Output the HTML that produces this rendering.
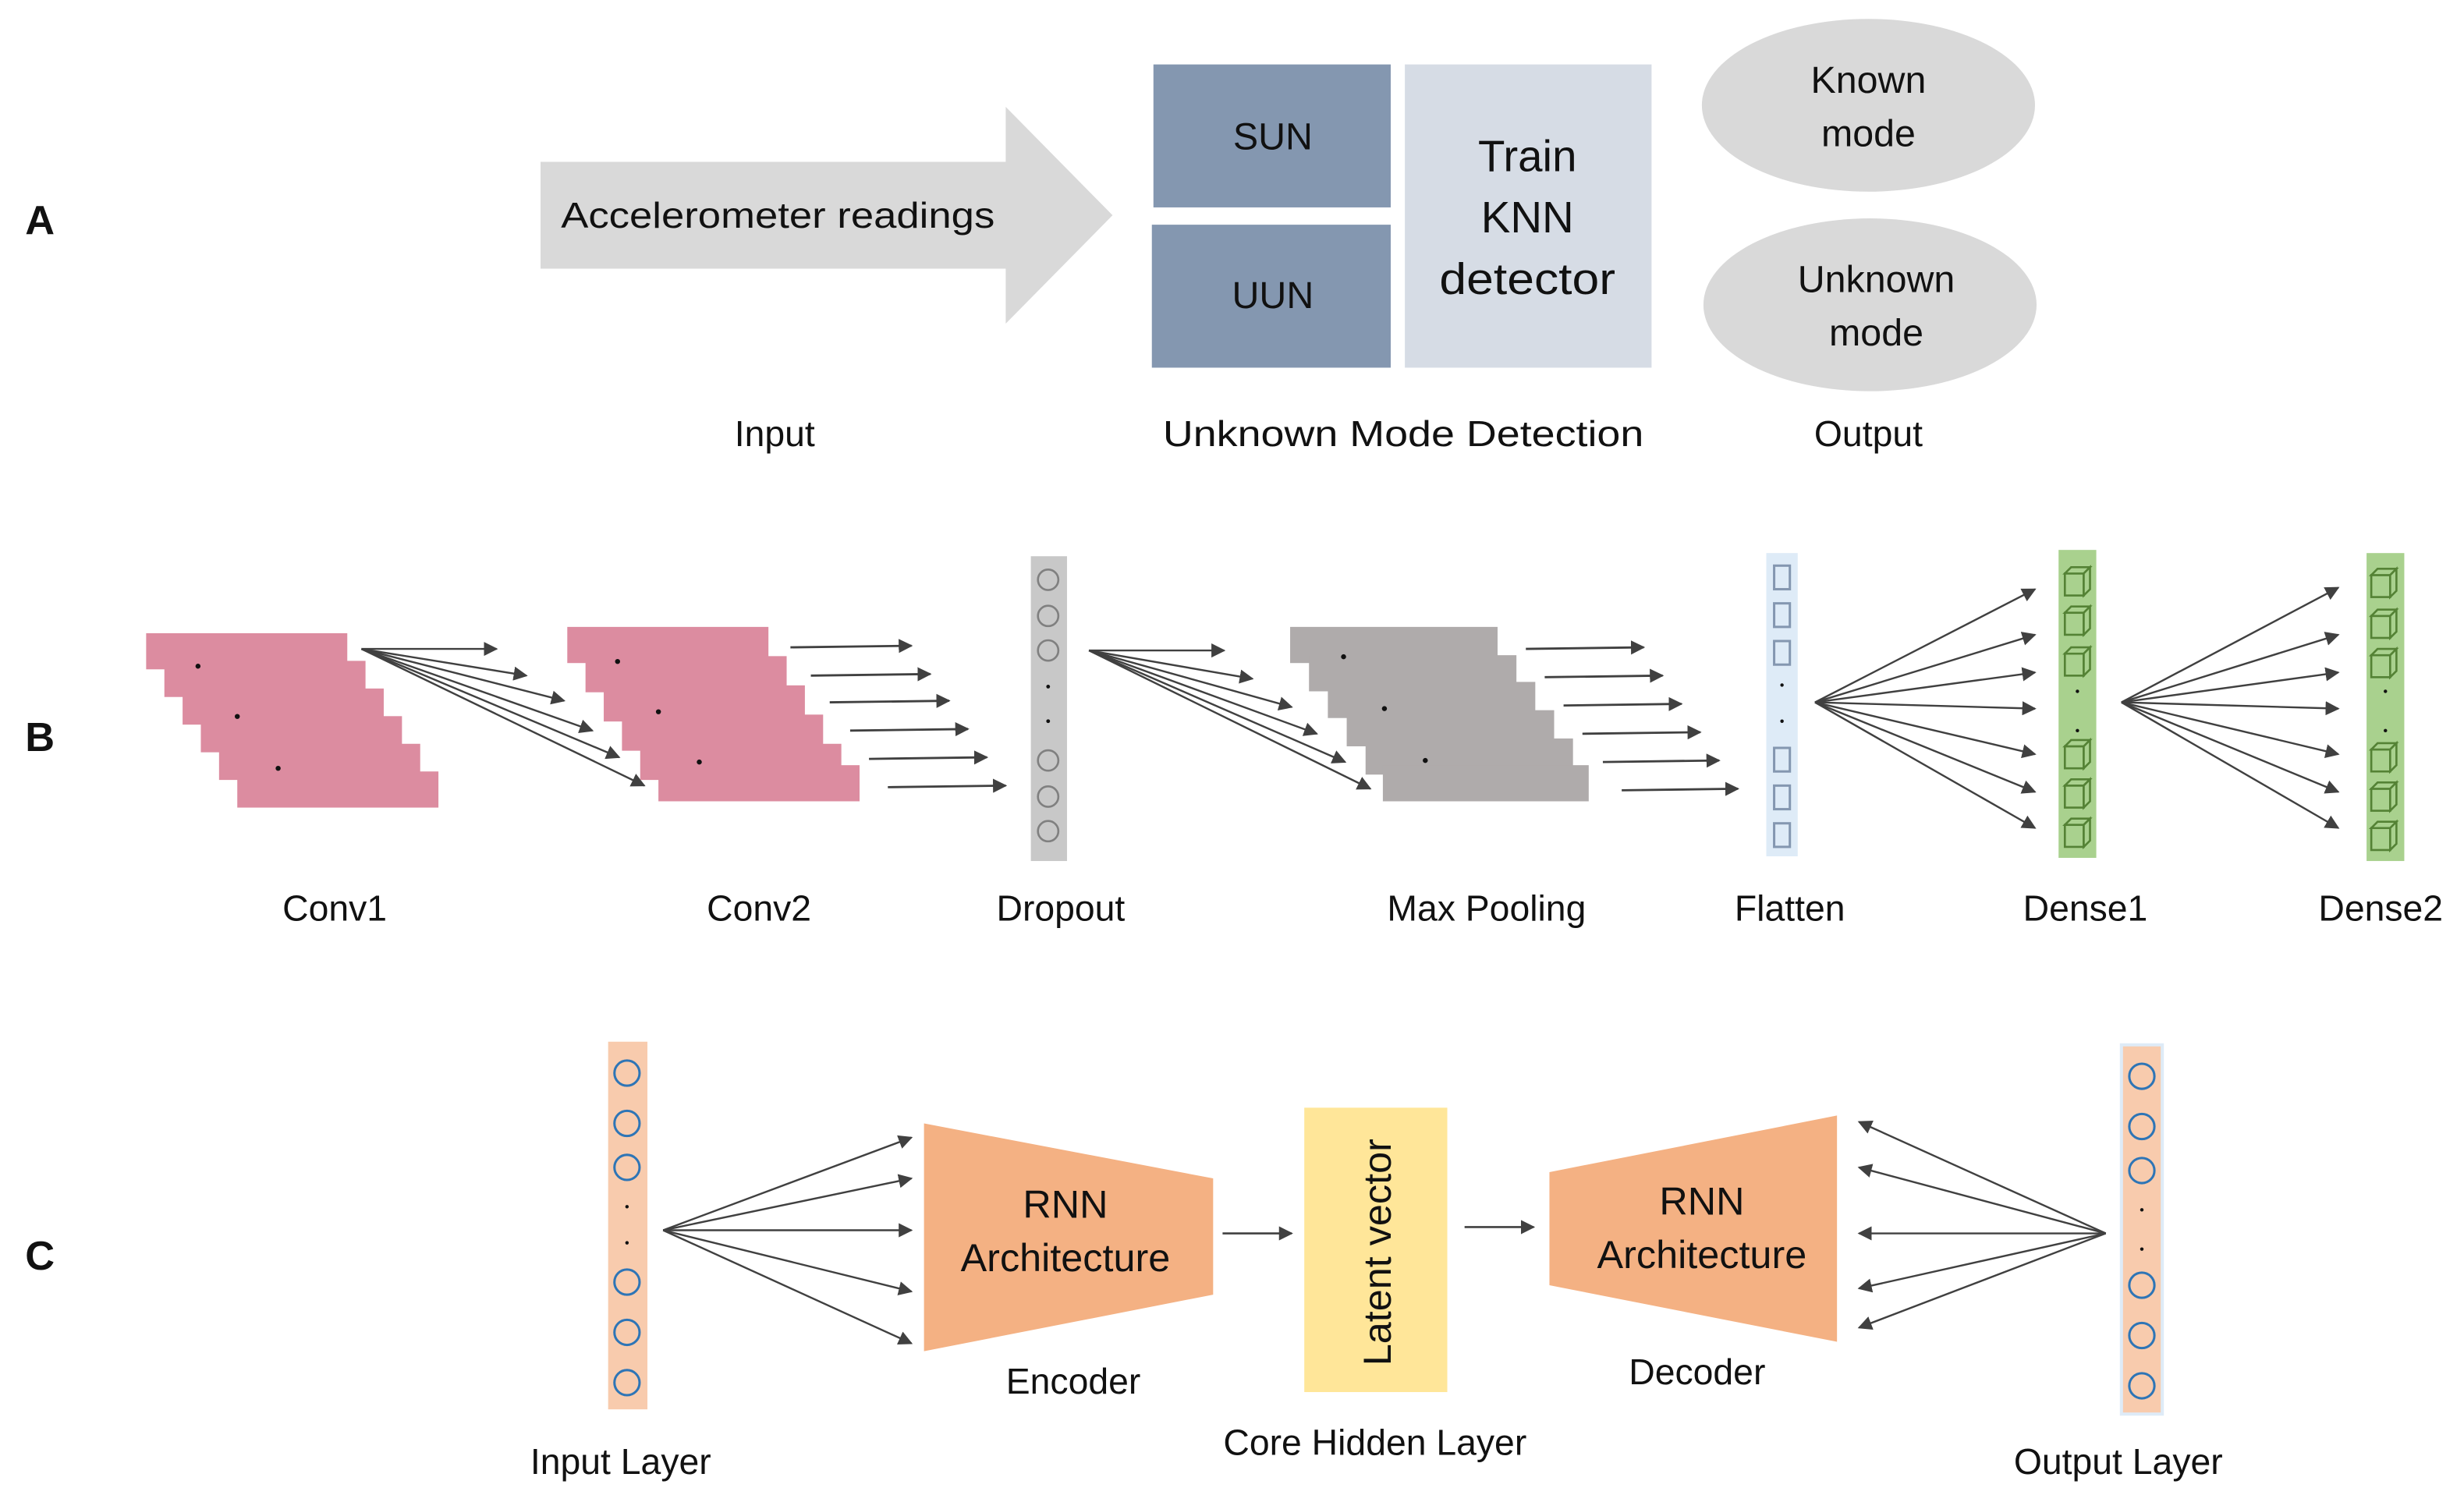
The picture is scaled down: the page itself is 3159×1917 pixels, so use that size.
<!DOCTYPE html>
<html><head><meta charset="utf-8"><style>
html,body{margin:0;padding:0;background:#fff;}
svg{display:block;}
text{font-family:"Liberation Sans",sans-serif;fill:#111;}
</style></head><body>
<svg width="3159" height="1917" viewBox="0 0 1568 951.5" xmlns="http://www.w3.org/2000/svg">
<defs>
<marker id="ah" viewBox="0 0 10 10" refX="9" refY="5" markerWidth="9" markerHeight="9" markerUnits="userSpaceOnUse" orient="auto">
<path d="M0,0 L10,5 L0,10 z" fill="#404040"/></marker>
</defs>
<rect width="1568" height="951.5" fill="#fff"/>

<!-- Section A -->
<text x="16" y="149" font-size="26" font-weight="bold">A</text>
<polygon points="344,103 640,103 640,68 708,137 640,206 640,171 344,171" fill="#d9d9d9"/>
<text x="495" y="145" font-size="23" text-anchor="middle" textLength="276" lengthAdjust="spacingAndGlyphs">Accelerometer readings</text>
<rect x="734" y="41" width="151" height="91" fill="#8497b0"/>
<rect x="733" y="143" width="152" height="91" fill="#8497b0"/>
<text x="810" y="95" font-size="24" text-anchor="middle">SUN</text>
<text x="810" y="196" font-size="24" text-anchor="middle">UUN</text>
<rect x="894" y="41" width="157" height="193" fill="#d6dce5"/>
<text x="972" y="109" font-size="28" text-anchor="middle">Train</text>
<text x="972" y="148" font-size="28" text-anchor="middle">KNN</text>
<text x="972" y="187" font-size="28" text-anchor="middle" textLength="112" lengthAdjust="spacingAndGlyphs">detector</text>
<ellipse cx="1189" cy="67" rx="106" ry="55" fill="#d9d9d9"/>
<ellipse cx="1190" cy="194" rx="106" ry="55" fill="#d9d9d9"/>
<text x="1189" y="59" font-size="24" text-anchor="middle">Known</text>
<text x="1189" y="93" font-size="24" text-anchor="middle">mode</text>
<text x="1194" y="186" font-size="24" text-anchor="middle">Unknown</text>
<text x="1194" y="220" font-size="24" text-anchor="middle">mode</text>
<text x="493" y="284" font-size="23" text-anchor="middle">Input</text>
<text x="893" y="284" font-size="23" text-anchor="middle" textLength="306" lengthAdjust="spacingAndGlyphs">Unknown Mode Detection</text>
<text x="1189" y="284" font-size="23" text-anchor="middle">Output</text>

<!-- Section B -->
<text x="16" y="478" font-size="26" font-weight="bold">B</text>
<g fill="#dc8ca0">
<rect x="93" y="403" width="128" height="23"/><rect x="104.6" y="420.6" width="128" height="23"/>
<rect x="116.2" y="438.2" width="128" height="23"/><rect x="127.8" y="455.8" width="128" height="23"/>
<rect x="139.4" y="473.4" width="128" height="23"/><rect x="151" y="491" width="128" height="23"/>
</g>
<g fill="#111"><circle cx="126" cy="424" r="1.6"/><circle cx="151" cy="456" r="1.6"/><circle cx="177" cy="489" r="1.6"/></g>
<g stroke="#404040" stroke-width="1.2" marker-end="url(#ah)">
<line x1="230" y1="413" x2="316" y2="413"/><line x1="230" y1="413" x2="335" y2="430"/>
<line x1="230" y1="413" x2="359" y2="446"/><line x1="230" y1="413" x2="377" y2="465"/>
<line x1="230" y1="413" x2="394" y2="482"/><line x1="230" y1="413" x2="410" y2="500"/>
</g>
<g fill="#dc8ca0">
<rect x="361" y="399" width="128" height="23"/><rect x="372.6" y="417.6" width="128" height="23"/>
<rect x="384.2" y="436.2" width="128" height="23"/><rect x="395.8" y="454.8" width="128" height="23"/>
<rect x="407.4" y="473.4" width="128" height="23"/><rect x="419" y="487" width="128" height="23"/>
</g>
<g fill="#111"><circle cx="393" cy="421" r="1.6"/><circle cx="419" cy="453" r="1.6"/><circle cx="445" cy="485" r="1.6"/></g>
<g stroke="#404040" stroke-width="1.4" marker-end="url(#ah)">
<line x1="503" y1="412" x2="580" y2="411"/><line x1="516" y1="430" x2="592" y2="429"/>
<line x1="528" y1="447" x2="604" y2="446"/><line x1="541" y1="465" x2="616" y2="464"/>
<line x1="553" y1="483" x2="628" y2="482"/><line x1="565" y1="501" x2="640" y2="500"/>
</g>
<rect x="656" y="354" width="23" height="194" fill="#c8c8c8"/>
<g fill="none" stroke="#808080" stroke-width="1.3">
<circle cx="667" cy="369" r="6.5"/><circle cx="667" cy="392" r="6.5"/><circle cx="667" cy="414" r="6.5"/>
<circle cx="667" cy="484" r="6.5"/><circle cx="667" cy="507" r="6.5"/><circle cx="667" cy="529" r="6.5"/>
</g>
<g fill="#111"><circle cx="667" cy="437" r="1.2"/><circle cx="667" cy="459" r="1.2"/></g>
<g stroke="#404040" stroke-width="1.2" marker-end="url(#ah)">
<line x1="693" y1="414" x2="779" y2="414"/><line x1="693" y1="414" x2="797" y2="432"/>
<line x1="693" y1="414" x2="822" y2="450"/><line x1="693" y1="414" x2="838" y2="467"/>
<line x1="693" y1="414" x2="856" y2="485"/><line x1="693" y1="414" x2="872" y2="502"/>
</g>
<g fill="#afabab">
<rect x="821" y="399" width="132" height="23"/><rect x="833" y="417" width="132" height="23"/>
<rect x="845" y="434" width="132" height="23"/><rect x="857" y="452" width="132" height="23"/>
<rect x="869" y="470" width="132" height="23"/><rect x="880" y="487" width="131" height="23"/>
</g>
<g fill="#111"><circle cx="855" cy="418" r="1.6"/><circle cx="881" cy="451" r="1.6"/><circle cx="907" cy="484" r="1.6"/></g>
<g stroke="#404040" stroke-width="1.4" marker-end="url(#ah)">
<line x1="971" y1="413" x2="1046" y2="412"/><line x1="983" y1="431" x2="1058" y2="430"/>
<line x1="995" y1="449" x2="1070" y2="448"/><line x1="1007" y1="467" x2="1082" y2="466"/>
<line x1="1020" y1="485" x2="1094" y2="484"/><line x1="1032" y1="503" x2="1106" y2="502"/>
</g>
<rect x="1124" y="352" width="20" height="193" fill="#deebf7"/>
<g fill="none" stroke="#8497b0" stroke-width="1.5">
<rect x="1129" y="360" width="10" height="15"/><rect x="1129" y="384" width="10" height="15"/><rect x="1129" y="408" width="10" height="15"/>
<rect x="1129" y="476" width="10" height="15"/><rect x="1129" y="500" width="10" height="15"/><rect x="1129" y="524" width="10" height="15"/>
</g>
<g fill="#111"><circle cx="1134" cy="436" r="1.1"/><circle cx="1134" cy="459" r="1.1"/></g>
<g stroke="#404040" stroke-width="1.2" marker-end="url(#ah)">
<line x1="1155" y1="447" x2="1295" y2="375"/><line x1="1155" y1="447" x2="1295" y2="404"/>
<line x1="1155" y1="447" x2="1295" y2="428"/><line x1="1155" y1="447" x2="1295" y2="451"/>
<line x1="1155" y1="447" x2="1295" y2="480"/><line x1="1155" y1="447" x2="1295" y2="504"/>
<line x1="1155" y1="447" x2="1295" y2="527"/>
</g>
<rect x="1310" y="350" width="24" height="196" fill="#a9d18e"/>
<g id="cubes" fill="#a9d18e" stroke="#548235" stroke-width="1.3">
<g transform="translate(1314,361)"><rect x="0" y="4" width="12" height="14"/><polygon points="0,4 4,0 16,0 12,4"/><polygon points="12,4 16,0 16,14 12,18"/></g>
<g transform="translate(1314,386)"><rect x="0" y="4" width="12" height="14"/><polygon points="0,4 4,0 16,0 12,4"/><polygon points="12,4 16,0 16,14 12,18"/></g>
<g transform="translate(1314,412)"><rect x="0" y="4" width="12" height="14"/><polygon points="0,4 4,0 16,0 12,4"/><polygon points="12,4 16,0 16,14 12,18"/></g>
<g transform="translate(1314,471)"><rect x="0" y="4" width="12" height="14"/><polygon points="0,4 4,0 16,0 12,4"/><polygon points="12,4 16,0 16,14 12,18"/></g>
<g transform="translate(1314,496)"><rect x="0" y="4" width="12" height="14"/><polygon points="0,4 4,0 16,0 12,4"/><polygon points="12,4 16,0 16,14 12,18"/></g>
<g transform="translate(1314,521)"><rect x="0" y="4" width="12" height="14"/><polygon points="0,4 4,0 16,0 12,4"/><polygon points="12,4 16,0 16,14 12,18"/></g>
</g>
<g fill="#111"><circle cx="1322" cy="440" r="1.1"/><circle cx="1322" cy="465" r="1.1"/></g>
<g stroke="#404040" stroke-width="1.2" marker-end="url(#ah)">
<line x1="1350" y1="447" x2="1488" y2="374"/><line x1="1350" y1="447" x2="1488" y2="404"/>
<line x1="1350" y1="447" x2="1488" y2="428"/><line x1="1350" y1="447" x2="1488" y2="451"/>
<line x1="1350" y1="447" x2="1488" y2="480"/><line x1="1350" y1="447" x2="1488" y2="504"/>
<line x1="1350" y1="447" x2="1488" y2="527"/>
</g>
<rect x="1506" y="352" width="24" height="196" fill="#a9d18e"/>
<g fill="#a9d18e" stroke="#548235" stroke-width="1.3">
<g transform="translate(1509,362)"><rect x="0" y="4" width="12" height="14"/><polygon points="0,4 4,0 16,0 12,4"/><polygon points="12,4 16,0 16,14 12,18"/></g>
<g transform="translate(1509,388)"><rect x="0" y="4" width="12" height="14"/><polygon points="0,4 4,0 16,0 12,4"/><polygon points="12,4 16,0 16,14 12,18"/></g>
<g transform="translate(1509,413)"><rect x="0" y="4" width="12" height="14"/><polygon points="0,4 4,0 16,0 12,4"/><polygon points="12,4 16,0 16,14 12,18"/></g>
<g transform="translate(1509,473)"><rect x="0" y="4" width="12" height="14"/><polygon points="0,4 4,0 16,0 12,4"/><polygon points="12,4 16,0 16,14 12,18"/></g>
<g transform="translate(1509,498)"><rect x="0" y="4" width="12" height="14"/><polygon points="0,4 4,0 16,0 12,4"/><polygon points="12,4 16,0 16,14 12,18"/></g>
<g transform="translate(1509,523)"><rect x="0" y="4" width="12" height="14"/><polygon points="0,4 4,0 16,0 12,4"/><polygon points="12,4 16,0 16,14 12,18"/></g>
</g>
<g fill="#111"><circle cx="1518" cy="440" r="1.1"/><circle cx="1518" cy="465" r="1.1"/></g>
<g font-size="23" text-anchor="middle">
<text x="213" y="586">Conv1</text><text x="483" y="586">Conv2</text><text x="675" y="586">Dropout</text>
<text x="946" y="586">Max Pooling</text><text x="1139" y="586">Flatten</text><text x="1327" y="586">Dense1</text>
<text x="1515" y="586">Dense2</text>
</g>

<!-- Section C -->
<text x="16" y="808" font-size="26" font-weight="bold">C</text>
<rect x="387" y="663" width="25" height="234" fill="#f8cbad"/>
<g fill="none" stroke="#2e75b6" stroke-width="1.5">
<circle cx="399" cy="683" r="8"/><circle cx="399" cy="715" r="8"/><circle cx="399" cy="743" r="8"/>
<circle cx="399" cy="816" r="8"/><circle cx="399" cy="848" r="8"/><circle cx="399" cy="880" r="8"/>
</g>
<g fill="#111"><circle cx="399" cy="768" r="1.1"/><circle cx="399" cy="791" r="1.1"/></g>
<g stroke="#404040" stroke-width="1.2" marker-end="url(#ah)">
<line x1="422" y1="783" x2="580" y2="724"/><line x1="422" y1="783" x2="580" y2="750"/>
<line x1="422" y1="783" x2="580" y2="783"/><line x1="422" y1="783" x2="580" y2="822"/>
<line x1="422" y1="783" x2="580" y2="855"/>
</g>
<polygon points="588,715 772,750 772,824 588,860" fill="#f4b183"/>
<text x="678" y="775" font-size="25" text-anchor="middle">RNN</text>
<text x="678" y="809" font-size="25" text-anchor="middle">Architecture</text>
<line x1="778" y1="785" x2="822" y2="785" stroke="#404040" stroke-width="1.3" marker-end="url(#ah)"/>
<rect x="830" y="705" width="91" height="181" fill="#ffe699"/>
<text x="0" y="0" font-size="25" text-anchor="middle" transform="translate(885,797) rotate(-90)">Latent vector</text>
<line x1="932" y1="781" x2="976" y2="781" stroke="#404040" stroke-width="1.3" marker-end="url(#ah)"/>
<polygon points="986,746 1169,710 1169,854 986,818" fill="#f4b183"/>
<text x="1083" y="773" font-size="25" text-anchor="middle">RNN</text>
<text x="1083" y="807" font-size="25" text-anchor="middle">Architecture</text>
<rect x="1350" y="665" width="26" height="235" fill="#f8cbad" stroke="#deebf7" stroke-width="2"/>
<g fill="none" stroke="#2e75b6" stroke-width="1.5">
<circle cx="1363" cy="685" r="8"/><circle cx="1363" cy="717" r="8"/><circle cx="1363" cy="745" r="8"/>
<circle cx="1363" cy="818" r="8"/><circle cx="1363" cy="850" r="8"/><circle cx="1363" cy="882" r="8"/>
</g>
<g fill="#111"><circle cx="1363" cy="770" r="1.1"/><circle cx="1363" cy="795" r="1.1"/></g>
<g stroke="#404040" stroke-width="1.2" marker-end="url(#ah)">
<line x1="1340" y1="785" x2="1183" y2="714"/><line x1="1340" y1="785" x2="1183" y2="743"/>
<line x1="1340" y1="785" x2="1183" y2="785"/><line x1="1340" y1="785" x2="1183" y2="820"/>
<line x1="1340" y1="785" x2="1183" y2="845"/>
</g>
<g font-size="23" text-anchor="middle">
<text x="683" y="887">Encoder</text><text x="1080" y="881">Decoder</text>
<text x="875" y="926">Core Hidden Layer</text>
<text x="395" y="938">Input Layer</text><text x="1348" y="938">Output Layer</text>
</g>
</svg>
</body></html>
